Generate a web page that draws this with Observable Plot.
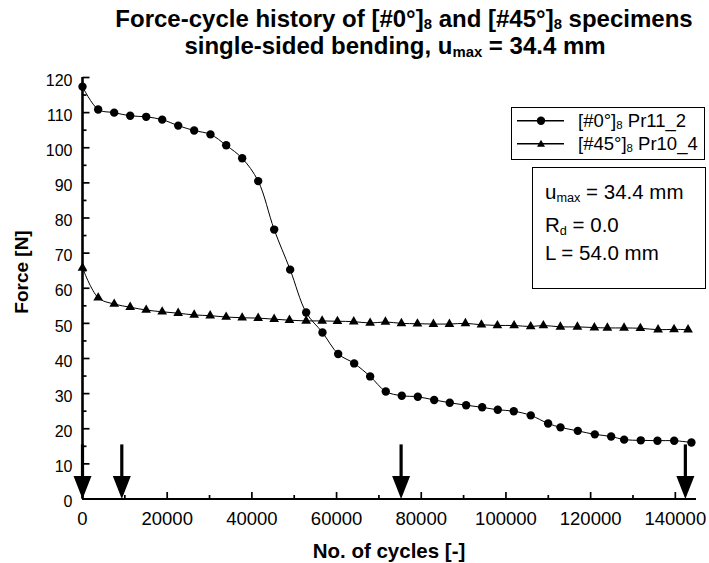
<!DOCTYPE html>
<html><head><meta charset="utf-8">
<script src="https://cdn.jsdelivr.net/npm/d3@7"></script>
<script src="https://cdn.jsdelivr.net/npm/@observablehq/plot@0.6"></script>
<style>
body{margin:0;background:#fff;font-family:"Liberation Sans",Arial,sans-serif;color:#000;}
#wrap{position:relative;width:709px;height:563px;overflow:hidden;}
.c{position:absolute;white-space:nowrap;line-height:1;transform:translate(-50%,-50%);}
.l{position:absolute;white-space:nowrap;line-height:1;transform:translate(0,-50%);}
.b{font-weight:bold;}
sub{font-size:0.62em;vertical-align:baseline;position:relative;top:0.2em;line-height:0;}
.box{position:absolute;border:1px solid #000;background:#fff;box-sizing:border-box;}
</style></head><body>
<div id="wrap">
<div id="chart"></div>
</div>
<script>
// ---- data ----
const cycles0 = [0,3700,7480,11260,15040,18820,22600,26370,30220,33930,37710,41490,45270,49040,52820,56670,60380,64160,67930,71620,75400,79180,83050,86730,90600,94380,98070,101850,105860,109960,112880,116960,120980,124840,127910,131840,135780,139730,143800];
const force0 = [117.4,110.9,110.0,109.1,108.8,108.0,106.3,104.9,103.8,100.7,97.0,90.5,76.7,65.3,53.1,47.4,41.3,38.6,34.9,30.6,29.4,29.1,28.2,27.4,26.7,26.1,25.4,25.0,23.8,21.5,20.4,19.4,18.4,17.8,16.9,16.7,16.6,16.6,16.1];
const cycles45 = [0,3707,7485,11262,15040,18817,22595,26372,30150,33928,37705,41483,45260,48873,52816,56594,60206,64055,67926,71539,75317,79094,82872,86649,90427,94205,97982,101925,105845,108843,112857,116870,120884,123953,127896,131744,135924,139701,143007];
const force45 = [65.8,57.3,55.5,54.6,53.8,53.3,52.9,52.4,52.2,51.8,51.6,51.5,51.2,50.9,50.7,50.7,50.6,50.5,50.1,50.4,50.0,49.9,49.8,49.8,50.0,49.6,49.4,49.4,49.1,49.4,49.0,49.0,48.8,48.7,48.7,48.6,48.2,48.3,48.2];
const arrowCycles = [0,9280,75240,142370];
const arrowTop = 15.4, arrowNeck = 5;
const xTicks = [0,20000,40000,60000,80000,100000,120000,140000];
const xMinor = [10000,30000,50000,70000,90000,110000,130000];
const yTicks = [0,10,20,30,40,50,60,70,80,90,100,110,120];
const yMinor = [5,15,25,35,45,55,65,75,85,95,105,115];

const s0 = cycles0.map((c,i)=>({c, f: force0[i]}));
const s45 = cycles45.map((c,i)=>({c, f: force45[i]}));

// marker shapes (pixel-sized glyphs)
const arrowHead = {draw(ctx){ ctx.moveTo(0,0); ctx.lineTo(-9,-23); ctx.lineTo(9,-23); ctx.closePath(); }};
const tickUp = (len) => ({draw(ctx){ ctx.rect(-0.85,-len,1.7,len); }});
const tickRight = (len) => ({draw(ctx){ ctx.rect(0,-0.85,len,1.7); }});

const chart = Plot.plot({
  width: 709, height: 563,
  marginLeft: 82, marginRight: 13, marginTop: 77, marginBottom: 64.5,
  x: {domain: [0,145000]},
  y: {domain: [0,120]},
  style: {fontFamily: '"Liberation Sans", Arial, sans-serif', color: "#000", background: "transparent"},
  marks: [
    Plot.axisX(xTicks, {tickSize: 0, tickPadding: 13, fontSize: 18.5, tickFormat: d3.format("d"), label: null}),
    Plot.axisY(yTicks, {tickSize: 0, tickPadding: 10, fontSize: 16, dy: 3, tickFormat: d3.format("d"), label: null}),
    // inward tick marks (filled thin rectangles anchored on the axes)
    Plot.dot(xTicks, {x: d=>d, y: 0, symbol: tickUp(7), r: 5, fill: "#000", stroke: "none"}),
    Plot.dot(xMinor, {x: d=>d, y: 0, symbol: tickUp(4), r: 5, fill: "#000", stroke: "none"}),
    Plot.dot(yTicks, {x: 0, y: d=>d, symbol: tickRight(7), r: 5, fill: "#000", stroke: "none"}),
    Plot.dot(yMinor, {x: 0, y: d=>d, symbol: tickRight(4), r: 5, fill: "#000", stroke: "none"}),
    Plot.line(s0, {x: "c", y: "f", curve: "catmull-rom", stroke: "#000", strokeWidth: 1}),
    Plot.line(s45, {x: "c", y: "f", curve: "catmull-rom", stroke: "#000", strokeWidth: 1}),
    Plot.dot(s0, {x: "c", y: "f", r: 4.2, fill: "#000", stroke: "none"}),
    Plot.dot(s45, {x: "c", y: "f", r: 3.6, symbol: "triangle", fill: "#000", stroke: "none"}),
    Plot.ruleX(arrowCycles, {x: d=>d, y1: arrowNeck, y2: arrowTop, strokeWidth: 3.2, stroke: "#000"}),
    Plot.dot(arrowCycles, {x: d=>d, y: 0, symbol: arrowHead, r: 5, fill: "#000", stroke: "none"}),
    Plot.ruleX([0], {strokeWidth: 2.6, stroke: "#000"}),
    Plot.ruleY([0], {strokeWidth: 2.2, stroke: "#000"})
  ]
});
chart.style.position = "absolute";
chart.style.left = "0px";
chart.style.top = "0px";
document.getElementById("chart").appendChild(chart);

// ---- texts / legend overlays ----
const wrap = document.getElementById("wrap");
function add(html, cls, css){ const d=document.createElement("div"); d.className=cls; d.innerHTML=html; Object.assign(d.style, css); wrap.appendChild(d); return d; }
add('Force-cycle history of [#0°]<sub>8</sub> and [#45°]<sub>8</sub> specimens', 'c b', {left:'404px', top:'18.5px', fontSize:'24px'});
add('single-sided bending, u<sub>max</sub> = 34.4 mm', 'c b', {left:'395px', top:'46px', fontSize:'24px'});
add('No. of cycles [-]', 'c b', {left:'389px', top:'551px', fontSize:'20.5px'});
add('Force [N]', 'c b', {left:'21px', top:'272px', fontSize:'19px', transform:'translate(-50%,-50%) rotate(-90deg)'});

add('', 'box', {left:'511px', top:'107px', width:'194px', height:'53px'});
const sw = (circle) => `<svg width="50" height="12" style="position:absolute;left:-62px;top:50%;transform:translateY(-50%)"><line x1="1" x2="48" y1="6" y2="6" stroke="#000" stroke-width="1.4"/>${circle ? '<circle cx="25" cy="6" r="4.2" fill="#000"/>' : '<path d="M25,2 L29,9 L21,9 Z" fill="#000"/>'}</svg>`;
add(sw(true) + '[#0°]<sub>8</sub> Pr11_2', 'l', {left:'578px', top:'121px', fontSize:'18.5px'});
add(sw(false) + '[#45°]<sub>8</sub> Pr10_4', 'l', {left:'578px', top:'144px', fontSize:'18.5px'});

add('', 'box', {left:'532px', top:'167px', width:'174px', height:'122px'});
add('u<sub>max</sub> = 34.4 mm', 'l', {left:'545px', top:'192px', fontSize:'20.5px'});
add('R<sub>d</sub> = 0.0', 'l', {left:'545px', top:'225px', fontSize:'20.5px'});
add('L = 54.0 mm', 'l', {left:'545px', top:'253px', fontSize:'20.5px'});
</script>
</body></html>
